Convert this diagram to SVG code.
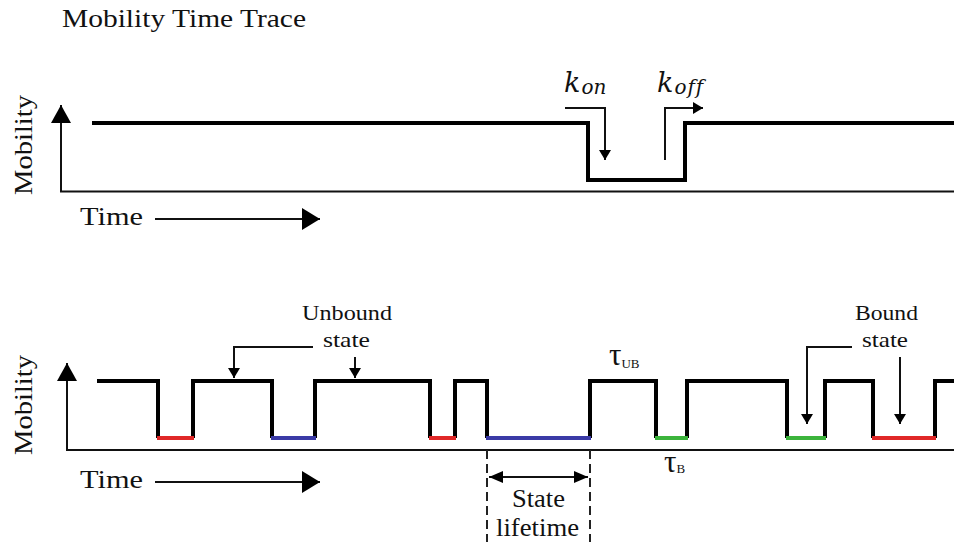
<svg xmlns="http://www.w3.org/2000/svg" width="954" height="542" viewBox="0 0 954 542">
<style>
.t{font-family:"Liberation Serif","DejaVu Serif",serif;fill:#111}
.k{font-family:"DejaVu Serif","Liberation Serif",serif;font-style:italic;fill:#111}
.trace{fill:none;stroke:#000;stroke-width:4;stroke-linejoin:miter}
.ax{fill:none;stroke:#111;stroke-width:2}
.thin{fill:none;stroke:#111;stroke-width:2}
.dash{fill:none;stroke:#222;stroke-width:2;stroke-dasharray:9,5}
.seg{fill:none;stroke-width:4;stroke-linecap:square}
</style>
<defs>
<marker id="ah" viewBox="0 0 10 12" refX="10" refY="6" markerWidth="10" markerHeight="12" markerUnits="userSpaceOnUse" orient="auto">
<path d="M0,0 L10,6 L0,12 z" fill="#000"/>
</marker>
<marker id="ahm" viewBox="0 0 14 12" refX="14" refY="6" markerWidth="14" markerHeight="12" markerUnits="userSpaceOnUse" orient="auto">
<path d="M0,0 L14,6 L0,12 z" fill="#000"/>
</marker>
<marker id="ahs" viewBox="0 0 14 12" refX="14" refY="6" markerWidth="14" markerHeight="12" markerUnits="userSpaceOnUse" orient="auto-start-reverse">
<path d="M0,0 L14,6 L0,12 z" fill="#000"/>
</marker>
<marker id="big" viewBox="0 0 18 20" refX="18" refY="10" markerWidth="18" markerHeight="20" markerUnits="userSpaceOnUse" orient="auto">
<path d="M0,0 L18,10 L0,20 z" fill="#000"/>
</marker>
<marker id="bigT" viewBox="0 0 18 22" refX="18" refY="11" markerWidth="18" markerHeight="22" markerUnits="userSpaceOnUse" orient="auto">
<path d="M0,0 L18,11 L0,22 z" fill="#000"/>
</marker>
</defs>

<g id="title">
<text class="t" x="62" y="27" font-size="25" textLength="244" lengthAdjust="spacingAndGlyphs">Mobility Time Trace</text>
</g>

<g id="top-panel">
<g id="top-axes">
<path class="ax" d="M61,192 V105" marker-end="url(#big)"/>
<path class="ax" d="M60,191.5 H954"/>
<text class="t" font-size="26" transform="translate(32,145) rotate(-90)" text-anchor="middle" textLength="100" lengthAdjust="spacingAndGlyphs">Mobility</text>
<text class="t" x="80" y="225" font-size="26" textLength="63" lengthAdjust="spacingAndGlyphs">Time</text>
<path class="thin" d="M155,219 H320" marker-end="url(#bigT)"/>
</g>
<g id="top-trace">
<path class="trace" d="M92,123 H588 V180 H685 V123 H954"/>
</g>
<g id="kon">
<path class="thin" stroke-width="3" d="M565,108 H605 V160" marker-end="url(#ah)"/>
<text class="k" x="564" y="92" font-size="27">k<tspan font-size="20" dy="2" dx="1">on</tspan></text>
</g>
<g id="koff">
<path class="thin" stroke-width="3" d="M665,160 V108 H703" marker-end="url(#ah)"/>
<text class="k" x="657" y="92" font-size="27">k<tspan font-size="20" dy="2" dx="1" letter-spacing="1">off</tspan></text>
</g>
</g>

<g id="bottom-panel">
<g id="bottom-axes">
<path class="ax" d="M67,451 V363" marker-end="url(#big)"/>
<path class="ax" d="M66,450 H954"/>
<text class="t" font-size="26" transform="translate(32,405) rotate(-90)" text-anchor="middle" textLength="100" lengthAdjust="spacingAndGlyphs">Mobility</text>
<text class="t" x="80" y="488" font-size="26" textLength="63" lengthAdjust="spacingAndGlyphs">Time</text>
<path class="thin" d="M155,482 H320" marker-end="url(#bigT)"/>
</g>
<g id="bottom-trace">
<path class="trace" d="M97,381 H158 V438 M193,438 V381 H272 V438 M315,438 V381 H430 V438 M455,438 V381 H487 V438 M590,438 V381 H656 V438 M687,438 V381 H787 V438 M825,438 V381 H873 V438 M935,438 V381 H954"/>
<path class="seg" stroke="#e02828" d="M159,438 H192"/>
<path class="seg" stroke="#3a3aa6" d="M273,438 H314"/>
<path class="seg" stroke="#e02828" d="M431,438 H454"/>
<path class="seg" stroke="#3a3aa6" d="M488,438 H589"/>
<path class="seg" stroke="#3cb43c" d="M657,438 H686"/>
<path class="seg" stroke="#3cb43c" d="M788,438 H824"/>
<path class="seg" stroke="#e02828" d="M874,438 H934"/>
</g>
<g id="unbound-label">
<text class="t" x="302" y="320" font-size="21" textLength="90" lengthAdjust="spacingAndGlyphs">Unbound</text>
<text class="t" x="323" y="347" font-size="21" textLength="47" lengthAdjust="spacingAndGlyphs">state</text>
<path class="thin" d="M313,347 H234 V378" marker-end="url(#ah)"/>
<path class="thin" d="M355,357 V378" marker-end="url(#ah)"/>
</g>
<g id="bound-label">
<text class="t" x="855" y="320" font-size="21" textLength="63" lengthAdjust="spacingAndGlyphs">Bound</text>
<text class="t" x="862" y="347" font-size="21" textLength="46" lengthAdjust="spacingAndGlyphs">state</text>
<path class="thin" d="M852,347 H807 V424" marker-end="url(#ah)"/>
<path class="thin" d="M900,357 V424" marker-end="url(#ah)"/>
</g>
<g id="tau-ub">
<text class="t" x="609" y="365" font-size="31" font-family="DejaVu Serif">τ<tspan font-size="13" dy="3">UB</tspan></text>
</g>
<g id="tau-b">
<text class="t" x="664" y="472" font-size="31" font-family="DejaVu Serif">τ<tspan font-size="13" dy="1">B</tspan></text>
</g>
<g id="state-lifetime">
<path class="dash" d="M487,450 V542"/>
<path class="dash" d="M590,450 V542"/>
<path class="thin" stroke-width="3" d="M489,477 H588" marker-start="url(#ahs)" marker-end="url(#ahm)"/>
<text class="t" x="512" y="507" font-size="25" textLength="53" lengthAdjust="spacingAndGlyphs">State</text>
<text class="t" x="496" y="536" font-size="25" textLength="83" lengthAdjust="spacingAndGlyphs">lifetime</text>
</g>
</g>
</svg>
